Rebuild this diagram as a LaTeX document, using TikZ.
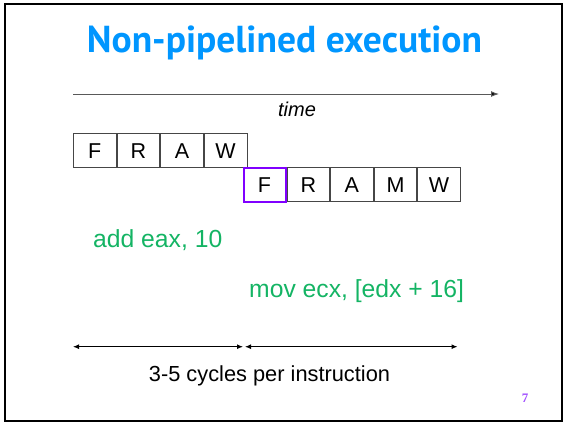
\documentclass[tikz,border=0pt]{standalone}
\usepackage{fontspec}
\setmainfont{Liberation Sans}
\newfontfamily\titlefont{PT Sans}
\newfontfamily\numfont{Liberation Serif}
\usetikzlibrary{arrows.meta}
\definecolor{titleblue}{RGB}{0,150,255}
\definecolor{codegreen}{RGB}{20,180,100}
\definecolor{hilite}{RGB}{128,0,255}
\definecolor{pagenum}{RGB}{160,80,255}
\definecolor{boxline}{RGB}{70,70,70}
\tikzset{
  stage/.style={draw=boxline, line width=0.9pt, minimum width=42.7pt, minimum height=34pt,
    inner sep=0pt, anchor=north west, font=\fontsize{21.5}{21.5}\selectfont},
  code/.style={text=codegreen, inner sep=0pt, anchor=base west, font=\fontsize{24.7}{24.7}\selectfont},
  span/.style={line width=1pt, {Latex[length=6pt,width=5pt]}-{Latex[length=6pt,width=5pt]}},
}
\begin{document}
\begin{tikzpicture}[x=1pt,y=-1pt]
\useasboundingbox (0,0) rectangle (565,424);
\draw[line width=2pt] (4.5,4) rectangle (562,421);
\node[text=titleblue, inner sep=0pt, anchor=base] (title) at (284.5,52)
  {\resizebox{395pt}{!}{\titlefont\bfseries Non-pipelined execution}};
% time axis
\coordinate (t0) at (73,94);
\coordinate (t1) at (499,94);
\draw[draw=black!65, line width=1pt, -{Latex[length=8pt,width=6pt,fill=black]}] (t0) -- (t1);
\node[inner sep=0pt, anchor=base, font=\fontsize{20}{20}\selectfont\itshape] (time) at (297,116.5) {time};
% first instruction
\node[stage] (a1) at (73,133.3) {F};
\node[stage] (a2) at (a1.north east) {R};
\node[stage] (a3) at (a2.north east) {A};
\node[stage] (a4) at (a3.north east) {W};
% second instruction
\node[stage] (b2) at (286.5,167.3) {R};
\node[stage] (b3) at (b2.north east) {A};
\node[stage] (b4) at (b3.north east) {M};
\node[stage] (b5) at (b4.north east) {W};
\node[stage, draw=hilite, line width=2pt, minimum width=42pt, anchor=north east] (b1) at (b2.north west) {F};
% code
\node[code] (c1) at (93,247) {add eax, 10};
\node[code] (c2) at (249,297) {mov ecx, [edx + 16]};
% spans
\coordinate (s0) at (73,346.7);
\coordinate (s1) at (243,346.7);
\coordinate (s2) at (245,346.7);
\coordinate (s3) at (457.5,346.7);
\draw[span] (s0) -- (s1);
\draw[span] (s2) -- (s3);
\node[inner sep=0pt, anchor=base, font=\fontsize{21.8}{21.8}\selectfont] (cpi) at (269.5,381.7) {3-5 cycles per instruction};
\node[inner sep=0pt, anchor=base, text=pagenum, font=\numfont\fontsize{13}{13}\selectfont\bfseries] (pg) at (525,402) {7};
\end{tikzpicture}
\end{document}
